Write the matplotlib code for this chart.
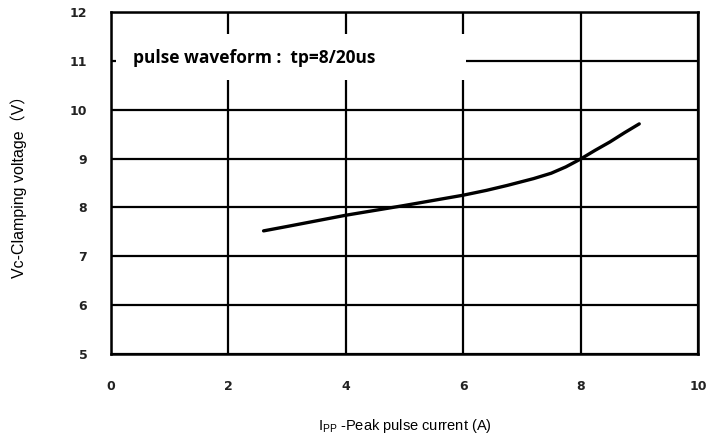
#clamping voltage vs peak pulse current

import matplotlib.pyplot as plt
from matplotlib.patches import Rectangle

#----------------------------------------------------------------------------------

current_a = [2.6, 3.0, 4.0, 5.0, 6.0, 6.4, 6.75, 7.2, 7.5, 7.75, 8.0, 8.25, 8.5, 8.75, 9.0]
clamp_v = [7.52, 7.61, 7.84, 8.04, 8.25, 8.35, 8.45, 8.59, 8.7, 8.83, 8.99, 9.17, 9.34, 9.53, 9.71]

x_ticks = [0, 2, 4, 6, 8, 10]
y_ticks = [5, 6, 7, 8, 9, 10, 11, 12]
note_text = "pulse waveform :  tp=8/20us"

#----------------------------------------------------------------------------------

fig = plt.figure(figsize = (7.1, 4.38), dpi = 100)
ax = fig.add_axes([0.1563, 0.1918, 0.8267, 0.7808])

ax.set_xlim(0, 10)
ax.set_ylim(5, 12)
ax.set_xticks(x_ticks)
ax.set_yticks(y_ticks)
ax.grid(color = "black", linewidth = 1.6)
ax.set_axisbelow(True)
for spine in ax.spines.values():
    spine.set_linewidth(1.8)
ax.tick_params(length = 0, pad = 17)
for lab in ax.get_xticklabels() + ax.get_yticklabels():
    lab.set_fontweight("bold")
    lab.set_fontsize(9)
    lab.set_color("#222222")
    lab.set_family("DejaVu Sans")
ax.tick_params(axis = "x", pad = 19)

ax.plot(current_a, clamp_v, color = "black", linewidth = 2.4, solid_capstyle = "round",
        solid_joinstyle = "round", zorder = 4)

#white box behind the note, hiding the grid lines
ax.add_patch(Rectangle((0.085, 10.61), 5.96, 0.94, facecolor = "white", edgecolor = "none", zorder = 2))
ax.text(0.38, 11.06, note_text, fontsize = 12.5, fontweight = "bold", family = "Open Sans",
        va = "center", ha = "left", zorder = 3)

ax.set_xlabel(r"$\mathregular{I_{PP}}$ -Peak pulse current (A)", fontsize = 10.5,
              family = ["Liberation Sans"], labelpad = 17)
ax.set_ylabel("Vc-Clamping voltage（V）", fontsize = 11.5,
              family = ["Liberation Sans", "Noto Sans CJK SC"], labelpad = 31)

#----------------------------------------------------------------------------------

fig.savefig("out.png", dpi = 100)
